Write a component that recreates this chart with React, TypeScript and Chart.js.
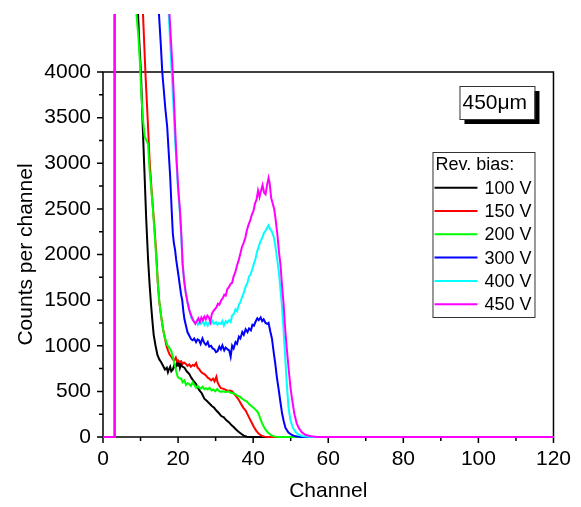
import React, { useEffect, useRef } from "react";
import { Chart, registerables } from "chart.js";

Chart.register(...registerables);

// ---- Data ----
const seriesLabels = ["100 V", "150 V", "200 V", "300 V", "400 V", "450 V"];
const seriesColors = ["#000000", "#ff0000", "#00ff00", "#0000ff", "#00ffff", "#ff00ff"];
const legendTitle = "Rev. bias:";
const insetLabel = "450\u03bcm";
const xTitle = "Channel";
const yTitle = "Counts per channel";
const xMajorTicks = [0, 20, 40, 60, 80, 100, 120];
const xMinorTicks = [10, 30, 50, 70, 90, 110];
const yMajorTicks = [0, 500, 1000, 1500, 2000, 2500, 3000, 3500, 4000];
const yMinorTicks = [250, 750, 1250, 1750, 2250, 2750, 3250, 3750];

const ch100 = [0, 3.15, 3.15, 8, 8.6, 9.33, 9.7, 10.1, 10.5, 11, 11.5, 12, 12.4, 12.8, 13.1, 13.5, 14, 14.5, 15, 15.5, 16, 16.5, 17, 17.3, 17.6, 17.9, 18.2, 18.6, 19, 19.3, 19.7, 20, 20.2, 20.5, 20.8, 21.2, 21.7, 22.3, 23, 23.5, 24, 24.8, 25.6, 26.3, 27, 27.7, 28.3, 29, 29.6, 30.2, 30.9, 31.5, 32.2, 32.8, 33.6, 34.2, 34.8, 35.5, 36.2, 36.8, 37.5, 38.3, 39, 120];
const cnt100 = [0, 0, 30000, 12000, 6500, 4640, 4300, 4000, 3500, 2950, 2400, 1950, 1680, 1450, 1300, 1120, 1000, 900, 850, 820, 780, 740, 760, 710, 745, 770, 720, 740, 790, 760, 810, 780, 830, 760, 800, 770, 760, 720, 690, 650, 620, 580, 515, 480, 420, 395, 369, 340, 320, 290, 260, 230, 215, 185, 160, 130, 110, 80, 55, 35, 15, 3, 0, 0];

const ch150 = [0, 3.15, 3.15, 9, 10, 10.65, 11.3, 12, 12.4, 13, 13.7, 14.2, 14.6, 15, 15.5, 16, 16.4, 16.9, 17.3, 17.8, 18.2, 18.6, 19, 19.4, 19.7, 20, 20.4, 20.8, 21.2, 21.6, 22.1, 22.5, 23, 23.4, 23.9, 24.3, 24.8, 25.2, 25.6, 26, 26.5, 27, 27.4, 27.9, 28.3, 28.8, 29.3, 29.7, 30.2, 30.5, 31, 31.4, 32, 32.6, 33.2, 33.8, 34.4, 35, 35.6, 36.2, 36.8, 37.4, 38, 38.6, 39.2, 39.7, 40.2, 40.8, 41.5, 42.2, 43, 44, 120];
const cnt150 = [0, 0, 30000, 9000, 6000, 4640, 3990, 3400, 3040, 2670, 2300, 2000, 1690, 1480, 1320, 1180, 1100, 1000, 950, 900, 880, 850, 840, 870, 830, 840, 820, 830, 800, 815, 800, 780, 795, 770, 790, 780, 810, 760, 745, 720, 700, 690, 675, 650, 640, 620, 640, 610, 660, 600, 560, 535, 530, 520, 505, 510, 500, 470, 440, 405, 360, 320, 290, 240, 190, 150, 110, 70, 35, 15, 4, 0, 0];

const ch200 = [0, 3.15, 3.15, 8, 8.9, 9.4, 9.8, 10.2, 10.6, 11.1, 11.6, 12, 12.4, 12.9, 13.3, 13.8, 14.2, 14.6, 15, 15.5, 16, 16.4, 16.9, 17.2, 17.5, 17.9, 18.2, 18.6, 19, 19.5, 19.9, 20.4, 20.8, 21.2, 21.7, 22.1, 22.5, 23, 23.4, 23.9, 24.3, 24.8, 25.2, 25.6, 26, 26.5, 27, 27.4, 27.9, 28.4, 28.9, 29.4, 29.9, 30.4, 30.9, 31.4, 32, 32.7, 33.3, 34, 34.6, 35.3, 35.9, 36.5, 37.1, 37.7, 38.3, 38.9, 39.5, 40.1, 40.6, 41.1, 41.5, 41.9, 42.4, 42.8, 43.3, 43.8, 44.3, 45, 45.8, 47, 120];
const cnt200 = [0, 0, 30000, 9000, 4640, 4400, 4130, 3770, 3500, 3290, 3250, 3210, 2930, 2700, 2490, 2200, 1950, 1690, 1480, 1320, 1180, 1100, 1040, 1000, 990, 960, 940, 880, 810, 720, 660, 640, 640, 600, 620, 570, 590, 580, 560, 600, 570, 540, 560, 545, 530, 550, 525, 535, 520, 540, 510, 520, 500, 525, 505, 495, 500, 490, 500, 485, 480, 470, 450, 440, 420, 400, 390, 360, 340, 320, 300, 280, 250, 200, 150, 115, 80, 55, 35, 15, 4, 0, 0];

const ch300 = [0, 3.15, 3.15, 13, 14, 14.9, 15.4, 15.8, 16.2, 16.6, 17.1, 17.5, 17.9, 18.3, 18.6, 18.9, 19.2, 19.5, 20, 20.4, 20.8, 21.1, 21.4, 21.7, 22.1, 22.5, 23, 23.5, 23.9, 24.3, 24.8, 25.2, 25.6, 26, 26.5, 27, 27.4, 27.9, 28.3, 28.8, 29.2, 29.7, 30.1, 30.5, 31, 31.4, 31.8, 32.3, 32.7, 33.2, 33.6, 34, 34.4, 34.8, 35.3, 35.7, 36.2, 36.6, 37.1, 37.5, 38, 38.5, 38.9, 39.4, 39.8, 40.2, 40.6, 41.1, 41.5, 42, 42.4, 42.8, 43.3, 43.7, 44.1, 44.6, 45, 45.5, 45.9, 46.3, 46.8, 47.2, 47.7, 48.1, 48.6, 49.4, 50.2, 51, 52, 53, 120];
const cnt300 = [0, 0, 30000, 9000, 6500, 4640, 4300, 3990, 3800, 3600, 3400, 3120, 2850, 2480, 2230, 2120, 2050, 1940, 1800, 1680, 1560, 1500, 1380, 1290, 1220, 1150, 1110, 1070, 1060, 1080, 1040, 1070, 1060, 1020, 1080, 1030, 1010, 1040, 990, 1000, 970, 960, 930, 940, 990, 960, 1005, 950, 980, 960, 950, 880, 1000, 970, 1040, 1020, 1100, 1080, 1150, 1120, 1180, 1150, 1190, 1170, 1230, 1220, 1260, 1300, 1280, 1310, 1270, 1290, 1250, 1240, 1250, 1150, 1080, 920, 800, 660, 520, 400, 260, 180, 100, 50, 25, 10, 3, 0, 0];

const ch400 = [0, 3.15, 3.15, 16, 17.5, 18.3, 18.8, 19.2, 19.6, 20, 20.5, 20.9, 21.2, 21.6, 22, 22.5, 23, 23.5, 24, 24.5, 24.9, 25.3, 25.7, 26.1, 26.6, 27, 27.4, 27.9, 28.3, 28.8, 29.2, 29.6, 30.1, 30.5, 30.9, 31.4, 31.8, 32.2, 32.7, 33.1, 33.6, 34, 34.4, 34.9, 35.3, 35.7, 36.2, 36.6, 37.1, 37.5, 38, 38.4, 38.9, 39.3, 39.7, 40.2, 40.6, 41.1, 41.5, 42, 42.4, 42.8, 43.3, 43.7, 44.1, 44.5, 45, 45.5, 45.9, 46.3, 46.8, 47.2, 47.7, 48.1, 48.5, 48.9, 49.4, 49.9, 50.5, 51.2, 52, 53, 54.5, 56, 120];
const cnt400 = [0, 0, 30000, 7500, 4640, 4000, 3600, 3250, 3000, 2700, 2450, 2150, 1900, 1720, 1590, 1480, 1390, 1310, 1280, 1250, 1270, 1230, 1260, 1240, 1270, 1230, 1260, 1220, 1250, 1240, 1270, 1240, 1260, 1230, 1250, 1240, 1270, 1220, 1270, 1250, 1280, 1260, 1330, 1350, 1400, 1380, 1450, 1480, 1540, 1580, 1650, 1680, 1760, 1780, 1830, 1900, 1950, 2040, 2090, 2150, 2180, 2230, 2260, 2290, 2320, 2280, 2250, 2190, 2100, 1976, 1820, 1650, 1420, 1170, 900, 620, 330, 190, 110, 60, 28, 12, 3, 0, 0];

const ch450 = [0, 3.15, 3.15, 16, 17.7, 18.4, 18.8, 19.2, 19.6, 20, 20.5, 20.9, 21.2, 21.6, 22, 22.5, 23, 23.5, 24, 24.6, 25, 25.4, 25.8, 26.2, 26.6, 27, 27.4, 27.8, 28.2, 28.6, 29, 29.4, 29.8, 30.2, 30.6, 31, 31.5, 31.9, 32.3, 32.7, 33.1, 33.5, 34, 34.4, 34.8, 35.2, 35.7, 36.1, 36.6, 37, 37.4, 37.9, 38.3, 38.8, 39.2, 39.6, 40.1, 40.5, 40.9, 41.3, 41.7, 42.1, 42.5, 42.9, 43.3, 43.7, 44.1, 44.4, 44.8, 45.2, 45.6, 46, 46.5, 46.9, 47.3, 47.7, 48.1, 48.5, 49, 49.4, 50, 50.5, 51, 51.6, 52.2, 53, 54, 55.5, 57, 120];
const cnt450 = [0, 0, 30000, 7800, 4640, 4130, 3800, 3400, 3040, 2750, 2490, 2200, 1900, 1720, 1590, 1480, 1390, 1330, 1280, 1240, 1270, 1300, 1260, 1310, 1280, 1320, 1290, 1330, 1310, 1260, 1350, 1380, 1400, 1420, 1460, 1450, 1500, 1520, 1560, 1550, 1620, 1640, 1680, 1690, 1760, 1800, 1880, 1930, 2010, 2080, 2120, 2180, 2260, 2330, 2370, 2430, 2480, 2560, 2600, 2700, 2630, 2700, 2760, 2680, 2660, 2760, 2840, 2780, 2620, 2560, 2500, 2380, 2200, 2020, 1880, 1650, 1465, 1200, 950, 770, 520, 380, 250, 150, 95, 50, 22, 8, 0, 0];

const seriesX = [ch100, ch150, ch200, ch300, ch400, ch450];
const seriesY = [cnt100, cnt150, cnt200, cnt300, cnt400, cnt450];

const FONT = "'Liberation Sans', Arial, sans-serif";

const decorPlugin = {
  id: "decor",
  beforeDatasetsDraw(chart: any) {
    const { ctx, chartArea: a, scales } = chart;
    ctx.save();
    ctx.strokeStyle = "#000";
    ctx.lineWidth = 1.5;
    ctx.strokeRect(a.left, a.top, a.right - a.left, a.bottom - a.top);
    ctx.beginPath();
    xMajorTicks.forEach((v) => {
      const px = scales.x.getPixelForValue(v);
      ctx.moveTo(px, a.bottom);
      ctx.lineTo(px, a.bottom + 6);
    });
    xMinorTicks.forEach((v) => {
      const px = scales.x.getPixelForValue(v);
      ctx.moveTo(px, a.bottom);
      ctx.lineTo(px, a.bottom + 4);
    });
    yMajorTicks.forEach((v) => {
      const py = scales.y.getPixelForValue(v);
      ctx.moveTo(a.left, py);
      ctx.lineTo(a.left - 6, py);
    });
    yMinorTicks.forEach((v) => {
      const py = scales.y.getPixelForValue(v);
      ctx.moveTo(a.left, py);
      ctx.lineTo(a.left - 4, py);
    });
    ctx.stroke();
    ctx.restore();
  },
  afterDraw(chart: any) {
    const { ctx, chartArea: a } = chart;
    ctx.save();
    // inset label with shadow
    const ix = a.right - 94, iy = a.top + 14, iw = 75, ih = 33;
    ctx.fillStyle = "#000";
    ctx.fillRect(ix + 5, iy + 5, iw, ih);
    ctx.fillStyle = "#fff";
    ctx.fillRect(ix, iy, iw, ih);
    ctx.strokeStyle = "#333";
    ctx.lineWidth = 1;
    ctx.strokeRect(ix + 0.5, iy + 0.5, iw, ih);
    ctx.fillStyle = "#000";
    ctx.font = `21px ${FONT}`;
    ctx.textBaseline = "middle";
    ctx.textAlign = "left";
    ctx.fillText(insetLabel, ix + 3, iy + ih / 2 + 1);

    // legend
    const lx = a.right - 121, ly = a.top + 80, lw = 102, lh = 165;
    ctx.fillStyle = "#fff";
    ctx.fillRect(lx, ly, lw, lh);
    ctx.strokeStyle = "#333";
    ctx.strokeRect(lx + 0.5, ly + 0.5, lw, lh);
    ctx.fillStyle = "#000";
    ctx.font = `18px ${FONT}`;
    ctx.fillText(legendTitle, lx + 3, ly + 13.5);
    chart.data.datasets.forEach((ds: any, i: number) => {
      const y = ly + 35.7 + i * 23.3;
      ctx.strokeStyle = ds.borderColor;
      ctx.lineWidth = 2;
      ctx.beginPath();
      ctx.moveTo(lx + 2, y);
      ctx.lineTo(lx + 45, y);
      ctx.stroke();
      ctx.fillStyle = "#000";
      ctx.fillText(ds.label, lx + 52, y + 1);
    });
    ctx.restore();
  },
};

export default function App() {
  const ref = useRef<HTMLCanvasElement>(null);
  useEffect(() => {
    if (!ref.current) return;
    const datasets = seriesLabels.map((label, i) => ({
      label,
      data: seriesX[i].map((x, j) => ({ x, y: seriesY[i][j] })),
      borderColor: seriesColors[i],
      backgroundColor: seriesColors[i],
      borderWidth: 2,
      pointRadius: 0,
      tension: 0,
      fill: false,
      order: seriesLabels.length - i,
      clip: { left: 2, top: 58, right: 2, bottom: 4 },
    }));
    const chart = new Chart(ref.current, {
      type: "line",
      data: { datasets },
      plugins: [decorPlugin],
      options: {
        responsive: false,
        animation: false,
        devicePixelRatio: 1,
        layout: { padding: { left: 0, top: 72, right: 24, bottom: 0 } },
        plugins: { legend: { display: false }, tooltip: { enabled: false } },
        scales: {
          x: {
            type: "linear",
            min: 0,
            max: 120,
            grid: { display: false, drawTicks: false },
            border: { display: false },
            ticks: {
              stepSize: 20,
              color: "#000",
              font: { family: FONT, size: 21 },
              padding: 10,
              maxRotation: 0,
              callback: (v: any) => String(v),
            },
            title: {
              display: true,
              text: xTitle,
              color: "#000",
              font: { family: FONT, size: 21 },
              padding: { top: 0, bottom: 3 },
            },
            afterFit: (s: any) => {
              s.height = 70;
            },
          },
          y: {
            type: "linear",
            min: 0,
            max: 4000,
            grid: { display: false, drawTicks: false },
            border: { display: false },
            ticks: {
              stepSize: 500,
              color: "#000",
              font: { family: FONT, size: 21 },
              padding: 12,
              callback: (v: any) => String(v),
            },
            title: {
              display: true,
              text: yTitle,
              color: "#000",
              font: { family: FONT, size: 21 },
              padding: { top: 14, bottom: 0 },
            },
            afterFit: (s: any) => {
              s.width = 103;
            },
          },
        },
      },
    } as any);
    return () => chart.destroy();
  }, []);
  return (
    <div style={{ position: "fixed", left: 0, top: 0, width: 581, height: 507, background: "#fff" }}>
      <canvas ref={ref} width={581} height={507} style={{ display: "block" }} />
    </div>
  );
}
